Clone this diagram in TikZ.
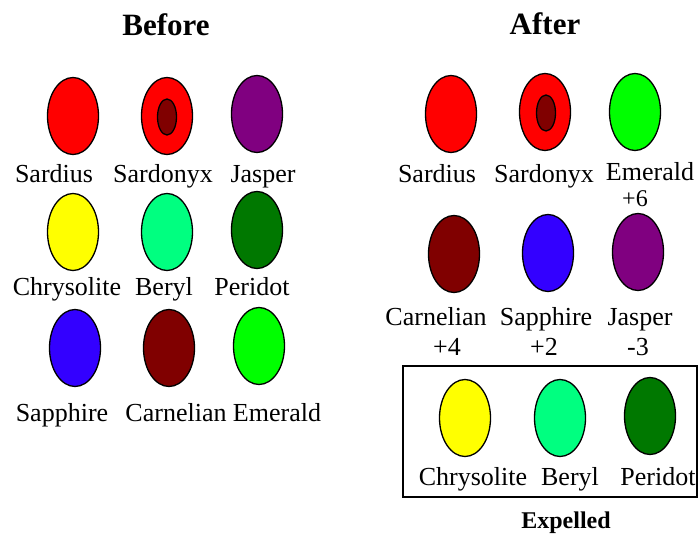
\documentclass[tikz,border=0pt]{standalone}
\usepackage{fontspec}
\setmainfont{Liberation Serif}
\usepackage{tikz}
\usetikzlibrary{shapes.geometric, positioning}
\usepackage{xcolor}
\definecolor{sardius}{RGB}{255,0,0}
\definecolor{sardcore}{RGB}{128,0,0}
\definecolor{jasper}{RGB}{128,0,128}
\definecolor{chrysolite}{RGB}{255,255,0}
\definecolor{beryl}{RGB}{0,255,128}
\definecolor{peridot}{RGB}{0,120,0}
\definecolor{sapphire}{RGB}{51,0,255}
\definecolor{carnelian}{RGB}{128,0,0}
\definecolor{emerald}{RGB}{0,255,0}
\tikzstyle{gem} = [ellipse, draw=black, line width=1.3pt, minimum width=51pt, minimum height=77pt, inner sep=0pt]
\tikzstyle{core} = [ellipse, draw=black, line width=1.3pt, minimum width=19pt, minimum height=36pt, inner sep=0pt, fill=sardcore]
\tikzstyle{label} = [anchor=base, inner sep=0pt, font=\fontsize{26}{30}\selectfont]
\tikzstyle{heading} = [anchor=base, inner sep=0pt, font=\fontsize{31}{36}\selectfont\bfseries]

\begin{document}
\begin{tikzpicture}[x=1pt, y=-1pt]
    \useasboundingbox (0,0) rectangle (700,534);

    % before
    \node (bhead) [heading] at (166,36) {Before};
    \node (bsardius) [gem, fill=sardius] at (73,116) {};
    \node (bsardonyx) [gem, fill=sardius] at (167,116) {};
    \node (bsardcore) [core] at (167,117) {};
    \node (bjasper) [gem, fill=jasper] at (257,114) {};
    \node (bchrysolite) [gem, fill=chrysolite] at (73,232) {};
    \node (bberyl) [gem, fill=beryl] at (167,232) {};
    \node (bperidot) [gem, fill=peridot] at (257,230) {};
    \node (bsapphire) [gem, fill=sapphire] at (75,348) {};
    \node (bcarnelian) [gem, fill=carnelian] at (169,348) {};
    \node (bemerald) [gem, fill=emerald] at (259,346) {};

    \node (bsardiustxt) [label] at (54,183) {Sardius};
    \node (bsardonyxtxt) [label] at (163,183) {Sardonyx};
    \node (bjaspertxt) [label] at (263,183) {Jasper};
    \node (bchrysolitetxt) [label] at (67,295) {Chrysolite};
    \node (bberyltxt) [label] at (164,295) {Beryl};
    \node (bperidottxt) [label] at (252,295) {Peridot};
    \node (bsapphiretxt) [label] at (62,421) {Sapphire};
    \node (bcarneliantxt) [label] at (176,421) {Carnelian};
    \node (bemeraldtxt) [label] at (277,421) {Emerald};

    % after
    \node (ahead) [heading] at (545,35) {After};
    \node (asardius) [gem, fill=sardius] at (451,114) {};
    \node (asardonyx) [gem, fill=sardius] at (545,112) {};
    \node (asardcore) [core] at (546,113) {};
    \node (aemerald) [gem, fill=emerald] at (635,112) {};
    \node (acarnelian) [gem, fill=carnelian] at (454,254) {};
    \node (asapphire) [gem, fill=sapphire] at (548,253) {};
    \node (ajasper) [gem, fill=jasper] at (638,252) {};

    \node (asardiustxt) [label] at (437,183) {Sardius};
    \node (asardonyxtxt) [label] at (544,183) {Sardonyx};
    \node (aemeraldtxt) [label] at (650,181) {Emerald};
    \node (aemeraldpts) [label, font=\fontsize{24}{28}\selectfont] at (635,207) {+6};
    \node (acarneliantxt) [label] at (436,325) {Carnelian};
    \node (asapphiretxt) [label] at (546,325) {Sapphire};
    \node (ajaspertxt) [label] at (640,325) {Jasper};
    \node (acarnelianpts) [label] at (447,355) {+4};
    \node (asapphirepts) [label] at (544,355) {+2};
    \node (ajasperpts) [label] at (638,355) {-3};

    % expelled
    \draw [line width=1.3pt] (403,366) rectangle (697,497);
    \node (xchrysolite) [gem, fill=chrysolite] at (465,418) {};
    \node (xberyl) [gem, fill=beryl] at (560,418) {};
    \node (xperidot) [gem, fill=peridot] at (650,416) {};
    \node (xchrysolitetxt) [label] at (473,485) {Chrysolite};
    \node (xberyltxt) [label] at (570,485) {Beryl};
    \node (xperidottxt) [label] at (658,485) {Peridot};
    \node (xhead) [anchor=base, inner sep=0pt, font=\fontsize{24}{28}\selectfont\bfseries] at (566,528) {Expelled};
\end{tikzpicture}
\end{document}
